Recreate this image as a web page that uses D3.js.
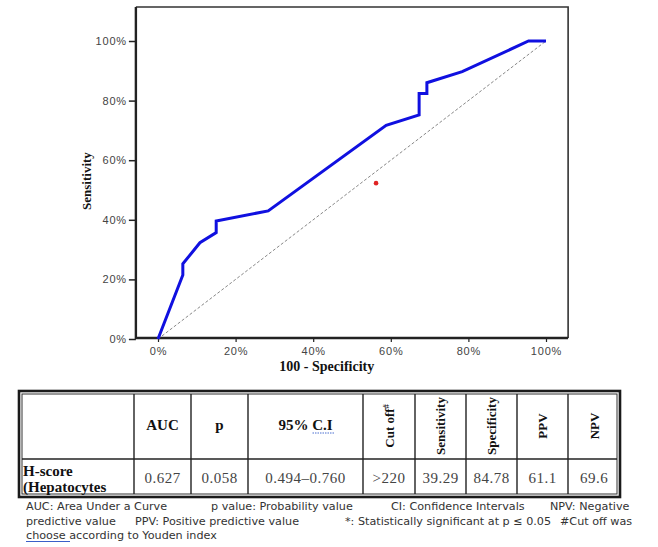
<!DOCTYPE html>
<html>
<head>
<meta charset="utf-8">
<script src="https://cdn.jsdelivr.net/npm/d3@7"></script>
<style>
  body { margin: 0; background: #fff; }
  .axis text { font-family: Arial, "Liberation Sans", sans-serif; font-size: 11px; fill: #444; letter-spacing: 0.8px; }
  .axis path, .axis line { stroke: #222; }
</style>
</head>
<body>
<div id="chart"></div>
<script>
document.addEventListener('DOMContentLoaded', init, false);

var width = 658;
var height = 547;

// ROC curve (100 - specificity, sensitivity in %)
var fpr = [0, 6.4, 6.4, 10.8, 15.0, 15.0, 28.4, 58.8, 67.3, 67.3, 69.3, 69.3, 78.4, 95.5, 100];
var tpr = [0, 21.5, 25.2, 32.3, 35.7, 39.6, 43.0, 71.7, 75.2, 82.4, 82.4, 86.0, 89.7, 100, 100];
var refLine = [[0, 0], [100, 100]];
var cutPoint = [[56.2, 52.3]];
var tickValues = [0, 20, 40, 60, 80, 100];

// table contents
var headers = ['', 'AUC', 'p', '95% C.I', 'Cut off', 'Sensitivity', 'Specificity', 'PPV', 'NPV'];
var rowLabel = ['H-score', '(Hepatocytes'];
var rowValues = ['0.627', '0.058', '0.494\u20130.760', '>220', '39.29', '84.78', '61.1', '69.6'];

// footnote
var notes = [
  ['AUC: Area Under a Curve', 'p value:  Probability value', 'CI: Confidence Intervals', 'NPV:  Negative'],
  ['predictive value', 'PPV: Positive predictive value', '*: Statistically significant at p \u2264 0.05', '#Cut off was'],
  ['choose according to Youden index']
];

function init() {

  var svg = d3.select('#chart')
    .append('svg')
      .attr('width', width)
      .attr('height', height);

  drawRoc(svg);
  drawTable(svg);
  drawNotes(svg);
}

function drawRoc(svg) {

  var x = d3.scaleLinear().domain([0, 100]).range([158, 546]);
  var y = d3.scaleLinear().domain([0, 100]).range([339, 41]);

  var left = x(-5.7), right = x(105.7), top = y(111.4), bottom = y(0) - 1;

  // frame
  svg.append('path')
    .attr('fill', 'none')
    .attr('stroke', '#333')
    .attr('stroke-width', 1.6)
    .attr('d', 'M' + left + ',' + top + 'H' + right + 'V' + bottom);

  svg.append('path')
    .attr('fill', 'none')
    .attr('stroke', '#222')
    .attr('stroke-width', 2.4)
    .attr('d', 'M' + left + ',' + top + 'V' + bottom + 'H' + right);

  var yAxis = svg.append('g')
    .attr('class', 'axis')
    .attr('transform', 'translate(' + left + ',0)')
    .call(d3.axisLeft(y).tickValues(tickValues).tickSize(7).tickPadding(2)
      .tickFormat(function (d) { return d + '%'; }));
  yAxis.select('.domain').remove();
  yAxis.selectAll('line').attr('stroke-width', 1.5);

  var xAxis = svg.append('g')
    .attr('class', 'axis')
    .attr('transform', 'translate(0,' + bottom + ')')
    .call(d3.axisBottom(x).tickValues(tickValues).tickSize(4).tickPadding(5)
      .tickFormat(function (d) { return d + '%'; }));
  xAxis.select('.domain').remove();
  xAxis.selectAll('line').attr('stroke-width', 1.2);

  var line = d3.line()
    .x(function (d) { return x(d[0]); })
    .y(function (d) { return y(d[1]); });

  svg.append('path')
    .attr('fill', 'none')
    .attr('stroke', '#888')
    .attr('stroke-width', 1)
    .attr('stroke-dasharray', '3,2')
    .attr('d', line(refLine));

  svg.append('path')
    .attr('fill', 'none')
    .attr('stroke', '#1010e0')
    .attr('stroke-width', 3)
    .attr('stroke-linejoin', 'miter')
    .attr('d', line(fpr.map(function (d, i) { return [d, tpr[i]]; })));

  svg.selectAll('.cut')
    .data(cutPoint)
    .enter()
    .append('circle')
      .attr('cx', function (d) { return x(d[0]); })
      .attr('cy', function (d) { return y(d[1]); })
      .attr('r', 2.3)
      .attr('fill', '#e02424');

  svg.append('text')
    .attr('transform', 'translate(91,' + y(53) + ') rotate(-90)')
    .attr('text-anchor', 'middle')
    .attr('font-family', '"Liberation Serif", "Times New Roman", serif')
    .attr('font-weight', 'bold')
    .attr('font-size', 13)
    .attr('fill', '#111')
    .text('Sensitivity');

  svg.append('text')
    .attr('x', x(43.5))
    .attr('y', 371)
    .attr('text-anchor', 'middle')
    .attr('font-family', '"Liberation Serif", "Times New Roman", serif')
    .attr('font-weight', 'bold')
    .attr('font-size', 14)
    .attr('fill', '#111')
    .text('100 - Specificity');
}

function drawTable(svg) {

  var cols = [19, 134, 191, 248, 363, 415, 466, 517, 568, 620];
  var top = 391, mid = 459, bottom = 497;
  var serif = '"Liberation Serif", "Times New Roman", serif';

  var table = svg.append('g').attr('class', 'table');

  table.append('rect')
    .attr('x', cols[0]).attr('y', top)
    .attr('width', cols[9] - cols[0]).attr('height', bottom - top)
    .attr('fill', 'none').attr('stroke', '#1a1a1a').attr('stroke-width', 2.6);

  table.append('rect')
    .attr('x', cols[0] + 3).attr('y', top + 3)
    .attr('width', cols[9] - cols[0] - 6).attr('height', bottom - top - 6)
    .attr('fill', 'none').attr('stroke', '#333').attr('stroke-width', 1);

  table.append('line')
    .attr('x1', cols[0] + 3).attr('x2', cols[9] - 3)
    .attr('y1', mid).attr('y2', mid)
    .attr('stroke', '#222').attr('stroke-width', 1.4);

  table.selectAll('.vline')
    .data(cols.slice(1, 9))
    .enter()
    .append('line')
      .attr('x1', function (d) { return d; }).attr('x2', function (d) { return d; })
      .attr('y1', top + 3).attr('y2', bottom - 3)
      .attr('stroke', '#222').attr('stroke-width', 1.4);

  headers.forEach(function (h, i) {
    if (!h) return;
    var cx = (cols[i] + cols[i + 1]) / 2;
    var cy = (top + mid) / 2;
    var t = table.append('text')
      .attr('font-family', serif)
      .attr('font-weight', 'bold')
      .attr('fill', '#111')
      .attr('text-anchor', 'middle');

    if (i >= 4) {
      t.attr('font-size', 13)
        .attr('transform', 'translate(' + (cx + 4.5) + ',' + (cy + 1) + ') rotate(-90)').text(h);
      if (i == 4) {
        t.append('tspan').attr('font-size', 8).attr('dy', -5).text('#');
      }
    } else {
      t.attr('font-size', 15).attr('x', cx).attr('y', cy + 5).text(h);
      if (h == '95% C.I') {
        table.append('line')
          .attr('x1', cx + 7).attr('x2', cx + 29)
          .attr('y1', cy + 8).attr('y2', cy + 8)
          .attr('stroke', '#4a6fd0').attr('stroke-width', 1)
          .attr('stroke-dasharray', '1.5,1');
      }
    }
  });

  table.selectAll('.label')
    .data(rowLabel)
    .enter()
    .append('text')
      .attr('x', 23)
      .attr('y', function (d, i) { return 476 + i * 16; })
      .attr('font-family', serif)
      .attr('font-weight', 'bold')
      .attr('font-size', 15)
      .attr('fill', '#111')
      .text(function (d) { return d; });

  table.selectAll('.value')
    .data(rowValues)
    .enter()
    .append('text')
      .attr('x', function (d, i) { return (cols[i + 1] + cols[i + 2]) / 2; })
      .attr('y', 483)
      .attr('text-anchor', 'middle')
      .attr('font-family', serif)
      .attr('font-size', 15)
      .attr('letter-spacing', 0.5)
      .attr('fill', '#444')
      .text(function (d) { return d; });
}

function drawNotes(svg) {

  var starts = [
    [26, 211, 391, 550],
    [26, 135, 345, 560],
    [26]
  ];

  var g = svg.append('g')
    .attr('font-family', '"DejaVu Sans", Verdana, sans-serif')
    .attr('font-size', 11.2)
    .attr('fill', '#333');

  notes.forEach(function (line, r) {
    line.forEach(function (s, c) {
      g.append('text')
        .attr('x', starts[r][c])
        .attr('y', 510 + r * 14.5)
        .text(s);
    });
  });

  // spell-check underline under "choose"
  g.append('line')
    .attr('x1', 26).attr('x2', 70)
    .attr('y1', 541.5).attr('y2', 541.5)
    .attr('stroke', '#3a5fc8').attr('stroke-width', 1);
}
</script>
</body>
</html>
